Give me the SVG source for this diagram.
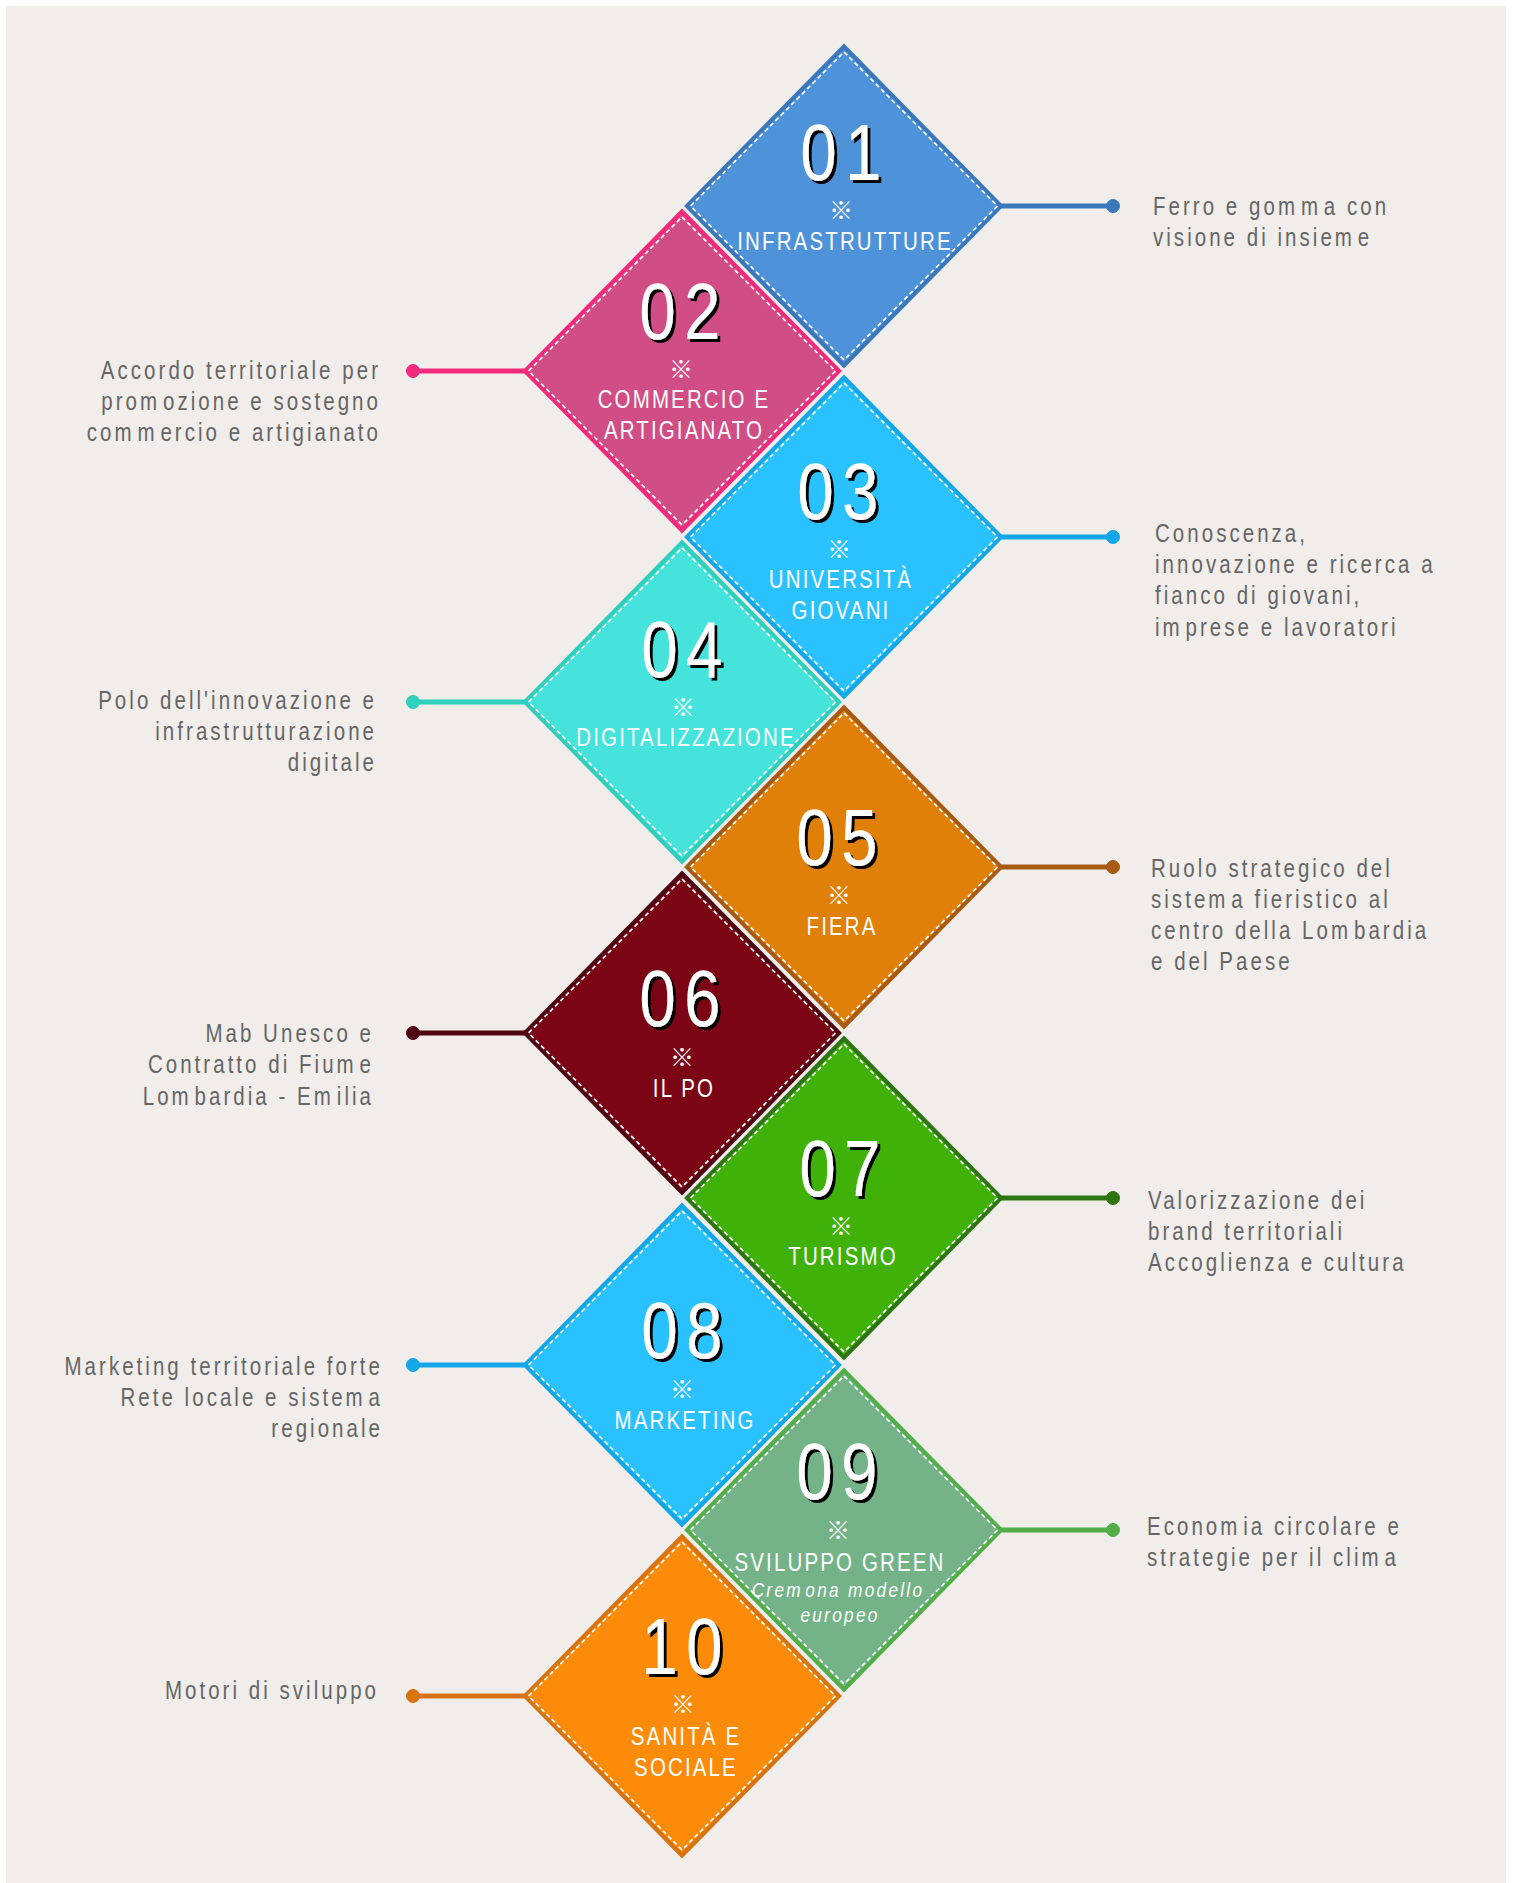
<svg xmlns="http://www.w3.org/2000/svg" width="1514" height="1883" viewBox="0 0 1514 1883">
<style>
.d{stroke-width:4.2;stroke-linejoin:miter}
.i{fill:none;stroke:#fff;stroke-width:1.7;stroke-dasharray:4.500 3}
.c{fill:none;stroke-width:5}
.n{font:80px "Liberation Sans",sans-serif;fill:#fff;letter-spacing:10px;text-anchor:middle;filter:url(#s)}
.m{font:24px "Noto Sans CJK JP",sans-serif;fill:#fff;text-anchor:middle}
.l{font:25px "Liberation Sans",sans-serif;fill:#fff;letter-spacing:2.6px;text-anchor:middle}
.u{font:italic 21px "Liberation Sans",sans-serif;fill:#fff;letter-spacing:2.8px;text-anchor:middle}
.t{font:25px "Liberation Sans",sans-serif;fill:#666;letter-spacing:3.7px}
.e{text-anchor:end}
</style>
<defs><filter id="s" x="-10%" y="-10%" width="125%" height="125%"><feDropShadow dx="3.600" dy="3" stdDeviation="0.3" flood-color="#000" flood-opacity="1"/></filter></defs>
<rect width="1514" height="1883" fill="#fff"/>
<rect x="6" y="6" width="1500" height="1877" fill="#f0edeb"/>
<g id="connectors">
<g stroke="#3b78bb"><path class="c" d="M1000 206H1113"/><circle cx="1113" cy="206" r="6.500" fill="#3b78bb"/></g>
<g stroke="#f22a7c"><path class="c" d="M526 371H413"/><circle cx="413" cy="371" r="6.500" fill="#f22a7c"/></g>
<g stroke="#13a7e8"><path class="c" d="M1000 537H1113"/><circle cx="1113" cy="537" r="6.500" fill="#13a7e8"/></g>
<g stroke="#2fcfbb"><path class="c" d="M526 702H413"/><circle cx="413" cy="702" r="6.500" fill="#2fcfbb"/></g>
<g stroke="#a85a12"><path class="c" d="M1000 867H1113"/><circle cx="1113" cy="867" r="6.500" fill="#a85a12"/></g>
<g stroke="#4f0512"><path class="c" d="M526 1033H413"/><circle cx="413" cy="1033" r="6.500" fill="#4f0512"/></g>
<g stroke="#2d7510"><path class="c" d="M1000 1198H1113"/><circle cx="1113" cy="1198" r="6.500" fill="#2d7510"/></g>
<g stroke="#13a7e8"><path class="c" d="M526 1365H413"/><circle cx="413" cy="1365" r="6.500" fill="#13a7e8"/></g>
<g stroke="#52ae48"><path class="c" d="M1000 1530H1113"/><circle cx="1113" cy="1530" r="6.500" fill="#52ae48"/></g>
<g stroke="#d9730f"><path class="c" d="M526 1696H413"/><circle cx="413" cy="1696" r="6.500" fill="#d9730f"/></g>
</g>
<g id="node01"><path class="d" fill="#4e92da" stroke="#3b78bb" d="M844 46.500L1001 206L844 365.500L687 206Z"/><path class="i" d="M844 52L997.500 206L844 360L690.500 206Z"/>
<text class="n" transform="matrix(.82 0 0 1 845 180)">01</text><text class="m" x="841" y="219">※</text><text class="l" transform="matrix(.82 0 0 1 845 250)">INFRASTRUTTURE</text>
<text class="t" transform="matrix(.82 0 0 1 1153 215)">Ferro e gom<tspan dx="3.500">m</tspan><tspan dx="3.500">a</tspan> con</text><text class="t" transform="matrix(.82 0 0 1 1153 246)">visione di insiem<tspan dx="3.500">e</tspan></text></g>
<g id="node02"><path class="d" fill="#d14d85" stroke="#f22a7c" d="M682 211.500L839 371L682 530.500L525 371Z"/><path class="i" d="M682 217L835.500 371L682 525L528.500 371Z"/>
<text class="n" transform="matrix(.82 0 0 1 684 339)">02</text><text class="m" x="681" y="378">※</text><text class="l" transform="matrix(.82 0 0 1 684 408)">COMMERCIO E</text><text class="l" transform="matrix(.82 0 0 1 684 439)">ARTIGIANATO</text>
<text class="t e" transform="matrix(.82 0 0 1 381 379)">Accordo territoriale per</text><text class="t e" transform="matrix(.82 0 0 1 381 410)">prom<tspan dx="3.500">o</tspan>zione e sostegno</text><text class="t e" transform="matrix(.82 0 0 1 381 441)">com<tspan dx="3.500">m</tspan><tspan dx="3.500">e</tspan>rcio e artigianato</text></g>
<g id="node03"><path class="d" fill="#29c1ff" stroke="#13a7e8" d="M844 377.500L1001 537L844 696.500L687 537Z"/><path class="i" d="M844 383L997.500 537L844 691L690.500 537Z"/>
<text class="n" transform="matrix(.82 0 0 1 842 519)">03</text><text class="m" x="839" y="558">※</text><text class="l" transform="matrix(.82 0 0 1 841 588)">UNIVERSITÀ</text><text class="l" transform="matrix(.82 0 0 1 841 619)">GIOVANI</text>
<text class="t" transform="matrix(.82 0 0 1 1155 542)">Conoscenza,</text><text class="t" transform="matrix(.82 0 0 1 1155 573)">innovazione e ricerca a</text><text class="t" transform="matrix(.82 0 0 1 1155 604)">fianco di giovani,</text><text class="t" transform="matrix(.82 0 0 1 1155 636)">im<tspan dx="3.500">p</tspan>rese e lavoratori</text></g>
<g id="node04"><path class="d" fill="#46e3dd" stroke="#2fcfbb" d="M682 542.500L839 702L682 861.500L525 702Z"/><path class="i" d="M682 548L835.500 702L682 856L528.500 702Z"/>
<text class="n" transform="matrix(.82 0 0 1 686 677)">04</text><text class="m" x="683" y="716">※</text><text class="l" transform="matrix(.82 0 0 1 686 746)">DIGITALIZZAZIONE</text>
<text class="t e" transform="matrix(.82 0 0 1 377 709)">Polo dell'innovazione e</text><text class="t e" transform="matrix(.82 0 0 1 377 740)">infrastrutturazione</text><text class="t e" transform="matrix(.82 0 0 1 377 771)">digitale</text></g>
<g id="node05"><path class="d" fill="#e18008" stroke="#a85a12" d="M844 707.500L1001 867L844 1026.500L687 867Z"/><path class="i" d="M844 713L997.500 867L844 1021L690.500 867Z"/>
<text class="n" transform="matrix(.82 0 0 1 841 865)">05</text><text class="m" x="839" y="904">※</text><text class="l" transform="matrix(.82 0 0 1 842 935)">FIERA</text>
<text class="t" transform="matrix(.82 0 0 1 1151 877)">Ruolo strategico del</text><text class="t" transform="matrix(.82 0 0 1 1151 908)">sistem<tspan dx="3.500">a</tspan> fieristico al</text><text class="t" transform="matrix(.82 0 0 1 1151 939)">centro della Lom<tspan dx="3.500">b</tspan>ardia</text><text class="t" transform="matrix(.82 0 0 1 1151 970)">e del Paese</text></g>
<g id="node06"><path class="d" fill="#7c0515" stroke="#4f0512" d="M682 873.500L839 1033L682 1192.500L525 1033Z"/><path class="i" d="M682 879L835.500 1033L682 1187L528.500 1033Z"/>
<text class="n" transform="matrix(.82 0 0 1 684 1026)">06</text><text class="m" x="682" y="1066">※</text><text class="l" transform="matrix(.82 0 0 1 684 1097)">IL PO</text>
<text class="t e" transform="matrix(.82 0 0 1 374 1042)">Mab Unesco e</text><text class="t e" transform="matrix(.82 0 0 1 374 1073)">Contratto di Fium<tspan dx="3.500">e</tspan></text><text class="t e" transform="matrix(.82 0 0 1 374 1105)">Lom<tspan dx="3.500">b</tspan>ardia - Em<tspan dx="3.500">i</tspan>lia</text></g>
<g id="node07"><path class="d" fill="#40b109" stroke="#2d7510" d="M844 1038.500L1001 1198L844 1357.500L687 1198Z"/><path class="i" d="M844 1044L997.500 1198L844 1352L690.500 1198Z"/>
<text class="n" transform="matrix(.82 0 0 1 844 1196)">07</text><text class="m" x="841" y="1235">※</text><text class="l" transform="matrix(.82 0 0 1 843 1265)">TURISMO</text>
<text class="t" transform="matrix(.82 0 0 1 1148 1209)">Valorizzazione dei</text><text class="t" transform="matrix(.82 0 0 1 1148 1240)">brand territoriali</text><text class="t" transform="matrix(.82 0 0 1 1148 1271)">Accoglienza e cultura</text></g>
<g id="node08"><path class="d" fill="#29c1ff" stroke="#13a7e8" d="M682 1205.500L839 1365L682 1524.500L525 1365Z"/><path class="i" d="M682 1211L835.500 1365L682 1519L528.500 1365Z"/>
<text class="n" transform="matrix(.82 0 0 1 686 1358)">08</text><text class="m" x="682" y="1398">※</text><text class="l" transform="matrix(.82 0 0 1 685 1429)">MARKETING</text>
<text class="t e" transform="matrix(.82 0 0 1 383 1375)">Marketing territoriale forte</text><text class="t e" transform="matrix(.82 0 0 1 383 1406)">Rete locale e sistem<tspan dx="3.500">a</tspan></text><text class="t e" transform="matrix(.82 0 0 1 383 1437)">regionale</text></g>
<g id="node09"><path class="d" fill="#74b388" stroke="#52ae48" d="M844 1370.500L1001 1530L844 1689.500L687 1530Z"/><path class="i" d="M844 1376L997.500 1530L844 1684L690.500 1530Z"/>
<text class="n" transform="matrix(.82 0 0 1 841 1499)">09</text><text class="m" x="838" y="1539">※</text><text class="l" transform="matrix(.82 0 0 1 840 1571)">SVILUPPO GREEN</text><text class="u" transform="matrix(.82 0 0 1 838 1597)">Crem<tspan dx="3">o</tspan>na modello</text><text class="u" transform="matrix(.82 0 0 1 840 1622)">europeo</text>
<text class="t" transform="matrix(.82 0 0 1 1147 1535)">Econom<tspan dx="3.500">i</tspan>a circolare e</text><text class="t" transform="matrix(.82 0 0 1 1147 1566)">strategie per il clim<tspan dx="3.500">a</tspan></text></g>
<g id="node10"><path class="d" fill="#fb8b09" stroke="#d9730f" d="M682 1536.500L839 1696L682 1855.500L525 1696Z"/><path class="i" d="M682 1542L835.500 1696L682 1850L528.500 1696Z"/>
<text class="n" transform="matrix(.82 0 0 1 686 1674)">10</text><text class="m" x="683" y="1713">※</text><text class="l" transform="matrix(.82 0 0 1 686 1745)">SANITÀ E</text><text class="l" transform="matrix(.82 0 0 1 686 1776)">SOCIALE</text>
<text class="t e" transform="matrix(.82 0 0 1 379 1699)">Motori di sviluppo</text></g>
</svg>
